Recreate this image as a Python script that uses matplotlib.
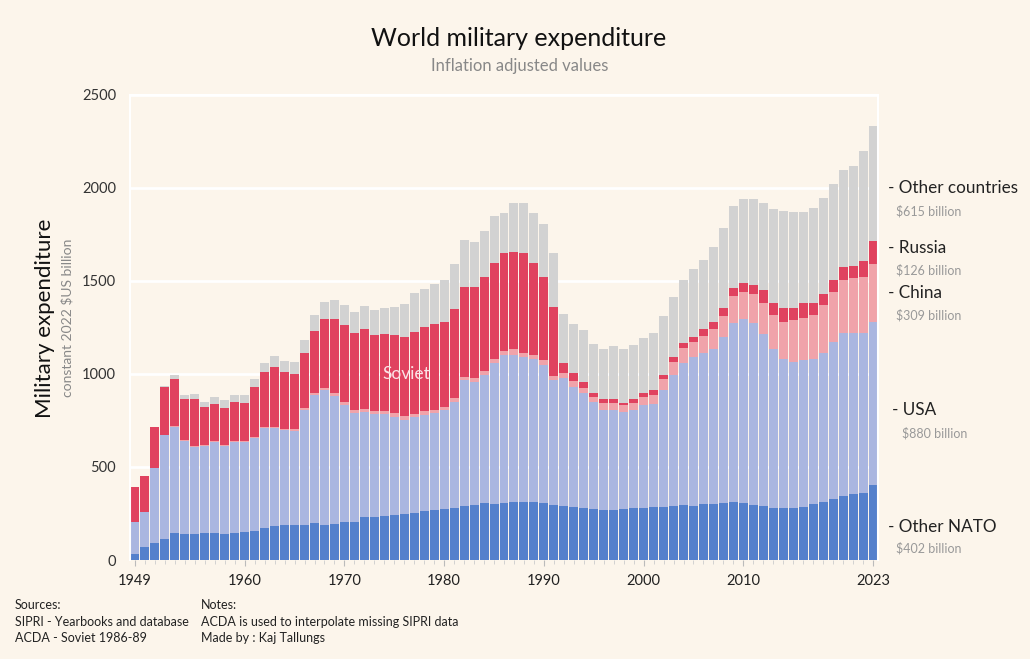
import matplotlib.pyplot as plt
from matplotlib.ticker import MultipleLocator
import numpy as np

plt.rcParams['font.family'] = ['Lato', 'DejaVu Sans']

years = list(range(1949, 2024))

# constant 2022 $US billion
other_nato = [32, 72, 90, 115, 147, 138, 138, 143, 143, 138,
              143, 150, 158, 174, 183, 186, 186, 186, 197, 190,
              195, 204, 206, 229, 229, 237, 244, 246, 251, 262,
              269, 274, 278, 290, 296, 305, 301, 308, 314, 314,
              314, 305, 296, 290, 287, 278, 272, 269, 269, 272,
              278, 281, 287, 287, 292, 296, 292, 299, 301, 308,
              312, 308, 296, 290, 278, 278, 281, 287, 301, 314,
              328, 344, 353, 358, 402]
usa = [174, 184, 403, 555, 570, 503, 468, 472, 493, 477,
       493, 486, 498, 537, 525, 513, 509, 620, 690, 724,
       687, 629, 583, 568, 554, 548, 527, 507, 516, 518,
       520, 532, 573, 678, 663, 690, 756, 794, 788, 779,
       767, 743, 672, 687, 645, 618, 579, 537, 537, 525,
       528, 552, 552, 627, 703, 765, 801, 816, 832, 893,
       960, 986, 976, 925, 855, 801, 785, 788, 780, 797,
       846, 878, 869, 861, 880]
china = [0, 2, 3, 4, 5, 5, 5, 5, 5, 5,
         5, 5, 6, 6, 6, 7, 8, 10, 12, 13,
         14, 15, 16, 16, 17, 17, 18, 20, 20, 20,
         20, 18, 18, 18, 20, 20, 22, 23, 31, 22,
         21, 27, 21, 27, 32, 27, 24, 36, 36, 36,
         40, 45, 48, 57, 68, 77, 77, 89, 109, 113,
         147, 149, 156, 169, 184, 199, 224, 224, 236, 258,
         265, 283, 292, 301, 309]
soviet_russia = [185, 194, 217, 254, 251, 220, 255, 201, 198, 197,
                 208, 201, 266, 292, 325, 303, 297, 295, 334, 370,
                 398, 415, 414, 427, 410, 413, 419, 428, 441, 451,
                 458, 457, 479, 484, 487, 505, 516, 524, 525, 537,
                 493, 448, 373, 53, 40, 36, 21, 22, 22, 13,
                 18, 18, 27, 24, 30, 27, 31, 36, 36, 43,
                 43, 44, 50, 68, 63, 75, 67, 85, 67, 59,
                 66, 69, 67, 89, 126]
other_countries = [0, 0, 0, 7, 20, 21, 25, 28, 39, 43,
                   38, 45, 43, 48, 58, 63, 66, 72, 83, 92,
                   102, 110, 113, 126, 134, 142, 150, 175, 206, 204,
                   217, 224, 243, 250, 242, 249, 254, 218, 260, 269,
                   272, 283, 287, 264, 263, 278, 265, 269, 288, 290,
                   294, 296, 308, 317, 319, 340, 362, 373, 407, 426,
                   441, 452, 461, 469, 509, 523, 512, 489, 507, 516,
                   515, 523, 537, 592, 615]

series = [
    ('Other NATO', other_nato, '#5480cc'),
    ('USA', usa, '#aab6e0'),
    ('China', china, '#f0a3aa'),
    ('Russia', soviet_russia, '#e0425f'),
    ('Other countries', other_countries, '#d2d2d2'),
]

bg = '#fcf5eb'
W, H = 1030, 659
fig = plt.figure(figsize=(W / 100, H / 100), dpi=100, facecolor=bg)
ax = fig.add_axes([130 / W, 1 - 560 / H, 748 / W, 465 / H], facecolor=bg)

bottom = np.zeros(len(years))
for name, vals, color in series:
    ax.bar(years, vals, bottom=bottom, width=0.9, color=color,
           linewidth=0, zorder=2)
    bottom += np.array(vals)

ax.set_xlim(1948.5, 2023.5)
ax.set_ylim(0, 2500)
ax.set_yticks(range(0, 2501, 500))
ax.set_xticks([1949, 1960, 1970, 1980, 1990, 2000, 2010, 2023])
ax.xaxis.set_minor_locator(MultipleLocator(1))
ax.tick_params(axis='y', length=0, pad=10, labelsize=10.5,
               labelcolor='#333333')
ax.tick_params(axis='x', which='major', length=4, color='#bbbbbb',
               labelsize=10.5, labelcolor='#222222', pad=6)
ax.tick_params(axis='x', which='minor', length=3, color='#cccccc')
ax.grid(axis='y', color='white', linewidth=2, zorder=0)
ax.set_axisbelow(True)
for side in ['left', 'top', 'right']:
    ax.spines[side].set_color('white')
    ax.spines[side].set_linewidth(1.5)
ax.spines['bottom'].set_visible(False)

ax.text(1976.2, 1000, 'Soviet', color='#fbe3e6', fontsize=12.5,
        ha='center', va='center', zorder=3)


def ftext(x, y, s, **kw):
    fig.text(x / W, 1 - y / H, s, va='center', **kw)


ftext(519, 38, 'World military expenditure', ha='center', fontsize=18,
      color='#111111')
ftext(520, 66, 'Inflation adjusted values', ha='center', fontsize=12,
      color='#888888')
fig.text(45 / W, 1 - 318 / H, 'Military expenditure', rotation=90,
         ha='center', va='center', fontsize=16, color='#111111')
fig.text(67 / W, 1 - 318 / H, 'constant 2022 $US billion', rotation=90,
         ha='center', va='center', fontsize=10, color='#888888')

labels = [
    (888, 188, 211, '- Other countries', '$615 billion'),
    (888, 248, 270, '- Russia', '$126 billion'),
    (888, 293, 315, '- China', '$309 billion'),
    (892, 410, 433, '- USA', '$880 billion'),
    (888, 527, 548, '- Other NATO', '$402 billion'),
]
for x, y1, y2, name, value in labels:
    ftext(x, y1, name, fontsize=12.3, color='#222222')
    ftext(x + 8 + (2 if name == '- USA' else 0), y2, value, fontsize=9,
          color='#999999')

ftext(15, 605, 'Sources:', fontsize=9, color='#222222')
ftext(15, 622, 'SIPRI - Yearbooks and database', fontsize=9, color='#222222')
ftext(15, 638, 'ACDA - Soviet 1986-89', fontsize=9, color='#222222')
ftext(201, 605, 'Notes:', fontsize=9, color='#222222')
ftext(201, 622, 'ACDA is used to interpolate missing SIPRI data', fontsize=9,
      color='#222222')
ftext(201, 638, 'Made by : Kaj Tallungs', fontsize=9, color='#222222')

fig.savefig('out.png', dpi=100, facecolor=bg)
